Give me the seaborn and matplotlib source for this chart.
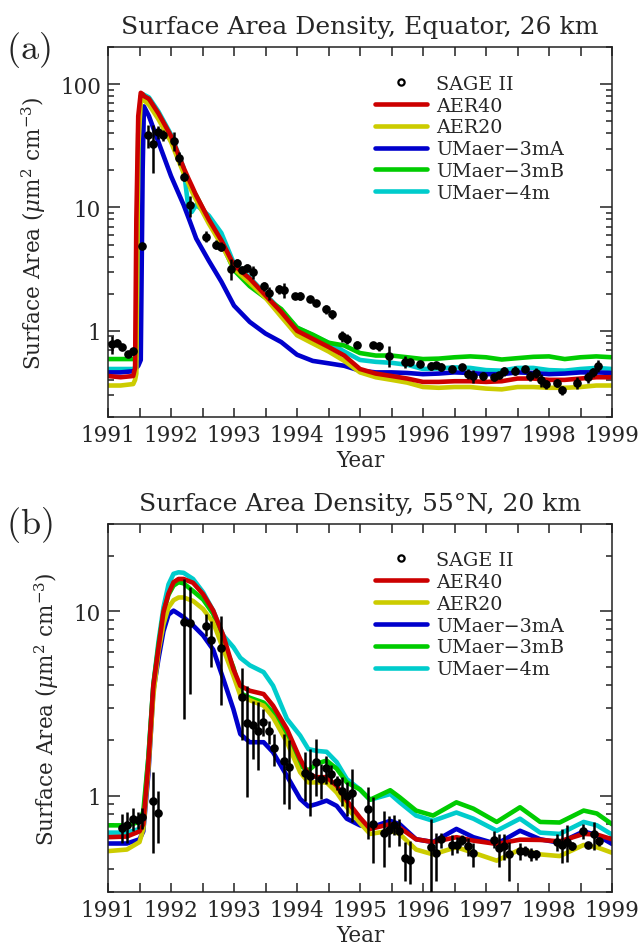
import numpy as np
import pandas as pd
import matplotlib
matplotlib.use('Agg')
import matplotlib.pyplot as plt
import seaborn as sns
from matplotlib.lines import Line2D
from matplotlib.ticker import MultipleLocator, LogLocator, FuncFormatter, NullFormatter

# ------------------------------------------------------------
# Panel (a): Equator, 26 km
# ------------------------------------------------------------
sage_a_t = [1991.06, 1991.14, 1991.22, 1991.31, 1991.39, 1991.54,
            1991.63, 1991.71, 1991.80, 1991.88, 1992.05, 1992.13, 1992.21, 1992.30,
            1992.55, 1992.71, 1992.80, 1992.96, 1993.05, 1993.13, 1993.21, 1993.30,
            1993.47, 1993.55, 1993.71, 1993.80, 1993.97, 1994.05, 1994.21, 1994.30,
            1994.46, 1994.55, 1994.71, 1994.79, 1994.96, 1995.21, 1995.30, 1995.46,
            1995.71, 1995.79, 1995.96, 1996.13, 1996.21, 1996.29, 1996.46, 1996.62,
            1996.71, 1996.79, 1996.96, 1997.13, 1997.21, 1997.29, 1997.46, 1997.62,
            1997.70, 1997.79, 1997.87, 1997.95, 1998.12, 1998.20, 1998.45, 1998.62,
            1998.70, 1998.78]
sage_a_v = [0.78, 0.80, 0.74, 0.65, 0.68, 4.9,
            38.5, 32.7, 41, 38.7, 34.6, 25, 17.8, 10.4,
            5.8, 5.0, 4.8, 3.19, 3.57, 3.13, 3.23, 3.0,
            2.31, 2.02, 2.17, 2.13, 1.93, 1.93, 1.81, 1.69,
            1.49, 1.36, 0.905, 0.86, 0.77, 0.77, 0.75, 0.63,
            0.56, 0.556, 0.54, 0.52, 0.53, 0.51, 0.49, 0.51,
            0.45, 0.43, 0.43, 0.42, 0.44, 0.47, 0.475, 0.49,
            0.43, 0.455, 0.40, 0.37, 0.38, 0.33, 0.38, 0.42,
            0.46, 0.52]
sage_a_err = [0.13, 0.05, 0.04, 0.03, 0.04, 0.2,
              8, 13.8, 5, 4, 6, 3, 1.5, 2.1,
              0.6, 0.4, 0.4, 0.6, 0.25, 0.2, 0.25, 0.35,
              0.2, 0.25, 0.2, 0.3, 0.1, 0.15, 0.1, 0.08,
              0.12, 0.12, 0.1, 0.08, 0.05, 0.04, 0.06, 0.12,
              0.06, 0.04, 0.02, 0.04, 0.03, 0.04, 0.03, 0.02,
              0.04, 0.05, 0.03, 0.03, 0.02, 0.04, 0.04, 0.03,
              0.04, 0.04, 0.05, 0.03, 0.03, 0.03, 0.04, 0.04,
              0.04, 0.06]

model_a_t = [1991.0, 1991.2, 1991.4, 1991.43, 1991.45, 1991.48, 1991.52, 1991.55,
             1991.57, 1991.65, 1991.8, 1992.0, 1992.2, 1992.28, 1992.33, 1992.4,
             1992.6, 1992.8, 1993.0, 1993.25, 1993.5, 1993.75, 1994.0, 1994.25,
             1994.5, 1994.75, 1995.0, 1995.25, 1995.5, 1995.75, 1996.0, 1996.25,
             1996.5, 1996.75, 1997.0, 1997.25, 1997.5, 1997.75, 1998.0, 1998.25,
             1998.5, 1998.75, 1999.0]
aer40_a = [0.43, 0.42, 0.43, 0.5, 8, 55, 85, 83,
           80, 76, 58, 38, 21, 17, 15, 12.5,
           8.0, 5.4, 3.4, 2.65, 1.94, 1.42, 1.0, 0.86,
           0.74, 0.63, 0.49, 0.45, 0.43, 0.41, 0.385, 0.385,
           0.39, 0.39, 0.385, 0.39, 0.41, 0.41, 0.40, 0.40,
           0.41, 0.42, 0.42]
aer20_a = [0.36, 0.36, 0.37, 0.40, 0.45, 30, 72, 75,
           74, 68, 52, 34, 19, 15.5, 13.5, 11.5,
           7.4, 5.0, 3.2, 2.45, 1.85, 1.3, 0.92, 0.79,
           0.68, 0.57, 0.46, 0.42, 0.40, 0.38, 0.35, 0.345,
           0.35, 0.35, 0.34, 0.335, 0.35, 0.35, 0.345, 0.345,
           0.35, 0.36, 0.36]
umaer3ma_a = [0.46, 0.46, 0.47, 0.48, 0.50, 0.52, 0.58, 20,
              66, 55, 34, 18, 10.5, 8.2, 7.0, 5.6,
              3.7, 2.5, 1.6, 1.18, 0.95, 0.81, 0.64, 0.57,
              0.545, 0.52, 0.475, 0.46, 0.46, 0.455, 0.445, 0.45,
              0.46, 0.455, 0.445, 0.445, 0.46, 0.455, 0.445, 0.45,
              0.46, 0.46, 0.455]
umaer3mb_a = [0.59, 0.59, 0.59, 0.60, 0.62, 40, 80, 81,
              80, 74, 56, 36, 20, 16, 14, 12.5,
              7.8, 5.2, 3.1, 2.3, 1.85, 1.5, 1.06, 0.93,
              0.80, 0.76, 0.66, 0.63, 0.63, 0.61, 0.59, 0.595,
              0.61, 0.62, 0.61, 0.585, 0.60, 0.615, 0.62, 0.59,
              0.61, 0.62, 0.61]
umaer4m_a = [0.49, 0.49, 0.49, 0.50, 0.51, 15, 78, 82,
             82, 78, 60, 39, 21, 9.5, 9.2, 10.5,
             8.6, 6.2, 3.5, 2.7, 1.98, 1.45, 1.06, 0.92,
             0.80, 0.68, 0.58, 0.56, 0.55, 0.53, 0.49, 0.495,
             0.505, 0.50, 0.48, 0.475, 0.50, 0.50, 0.48, 0.475,
             0.49, 0.50, 0.49]

# ------------------------------------------------------------
# Panel (b): 55N, 20 km
# ------------------------------------------------------------
sage_b_t = [1991.22, 1991.30, 1991.39, 1991.47, 1991.54, 1991.71, 1991.80,
            1992.21, 1992.30, 1992.55, 1992.63, 1992.80,
            1993.13, 1993.21, 1993.30, 1993.38, 1993.46, 1993.55, 1993.63,
            1993.80, 1993.88, 1994.13, 1994.21, 1994.30, 1994.38, 1994.46,
            1994.54, 1994.63, 1994.71, 1994.79, 1994.88,
            1995.13, 1995.21, 1995.38, 1995.46, 1995.54, 1995.62, 1995.71, 1995.79,
            1996.12, 1996.21, 1996.29, 1996.46, 1996.54, 1996.62, 1996.71, 1996.79,
            1997.12, 1997.20, 1997.29, 1997.37, 1997.54, 1997.62, 1997.71, 1997.79,
            1998.13, 1998.21, 1998.29, 1998.37, 1998.54, 1998.62, 1998.71, 1998.79]
sage_b_v = [0.67, 0.69, 0.75, 0.74, 0.77, 0.93, 0.81,
            8.8, 8.6, 8.3, 7.0, 6.35,
            3.44, 2.47, 2.43, 2.25, 2.52, 2.25, 1.81,
            1.54, 1.43, 1.33, 1.28, 1.52, 1.23, 1.41,
            1.31, 1.18, 1.06, 1.0, 1.04,
            0.85, 0.70, 0.625, 0.65, 0.69, 0.646, 0.46, 0.45,
            0.525, 0.49, 0.58, 0.54, 0.54, 0.575, 0.53, 0.49,
            0.575, 0.52, 0.53, 0.48, 0.50, 0.50, 0.48, 0.48,
            0.56, 0.54, 0.56, 0.53, 0.64, 0.54, 0.62, 0.565]
sage_b_lo = [0.55, 0.55, 0.64, 0.66, 0.66, 0.49, 0.55,
             2.6, 3.55, 7.4, 5.0, 3.1,
             2.0, 0.98, 1.58, 1.37, 2.12, 1.9, 1.44,
             0.90, 0.85, 0.94, 0.78, 1.0, 0.96, 1.16,
             1.15, 1.08, 0.88, 0.78, 0.72,
             0.58, 0.43, 0.41, 0.525, 0.61, 0.535, 0.345, 0.33,
             0.29, 0.345, 0.52, 0.475, 0.49, 0.54, 0.47, 0.41,
             0.52, 0.41, 0.45, 0.345, 0.45, 0.47, 0.44, 0.45,
             0.50, 0.43, 0.435, 0.51, 0.58, 0.52, 0.51, 0.53]
sage_b_hi = [0.80, 0.82, 0.86, 0.82, 0.86, 1.35, 1.06,
             15, 13.6, 9.7, 8.9, 9.5,
             4.9, 3.95, 3.28, 3.21, 2.95, 2.55, 2.16,
             2.16, 2.01, 1.72, 1.79, 2.03, 1.49, 1.65,
             1.46, 1.28, 1.26, 1.18, 1.40,
             1.11, 0.98, 0.83, 0.78, 0.79, 0.75, 0.56, 0.565,
             0.75, 0.63, 0.63, 0.61, 0.60, 0.61, 0.59, 0.55,
             0.64, 0.62, 0.62, 0.56, 0.55, 0.53, 0.52, 0.51,
             0.62, 0.66, 0.69, 0.56, 0.70, 0.56, 0.72, 0.59]

model_b_t = [1991.0, 1991.3, 1991.5, 1991.56, 1991.64, 1991.72, 1991.8, 1991.88,
             1991.96, 1992.04, 1992.12, 1992.2, 1992.35, 1992.51, 1992.67, 1992.83,
             1992.99, 1993.1, 1993.25, 1993.47, 1993.62, 1993.84, 1994.05, 1994.18,
             1994.31, 1994.47, 1994.63, 1994.79, 1995.0, 1995.16, 1995.48, 1995.63,
             1995.89, 1996.16, 1996.53, 1996.8, 1997.17, 1997.54, 1997.86, 1998.17,
             1998.55, 1998.76, 1999.0]
aer40_b = [0.595, 0.60, 0.64, 0.70, 1.5, 3.95, 6.3, 9.9,
           12.5, 14.4, 15.0, 15.0, 14.3, 12.4, 10.1, 7.4,
           4.87, 3.95, 3.71, 3.56, 3.08, 2.30, 1.58, 1.31,
           1.26, 1.26, 1.13, 0.94, 0.76, 0.66, 0.70, 0.67,
           0.58, 0.56, 0.595, 0.57, 0.547, 0.577, 0.575, 0.565,
           0.62, 0.615, 0.58]
aer20_b = [0.50, 0.51, 0.56, 0.66, 1.4, 3.5, 6.0, 8.5,
           10.5, 11.5, 11.9, 11.9, 11.4, 10.3, 8.7, 6.25,
           4.48, 3.5, 3.3, 3.08, 2.66, 1.95, 1.34, 1.18,
           1.18, 1.18, 1.04, 0.865, 0.71, 0.62, 0.645, 0.62,
           0.51, 0.48, 0.525, 0.49, 0.444, 0.51, 0.48, 0.47,
           0.54, 0.525, 0.49]
umaer3ma_b = [0.55, 0.55, 0.58, 0.64, 1.3, 3.7, 5.5, 7.8,
              9.6, 10.1, 9.7, 9.3, 8.4, 7.4, 6.2, 4.3,
              2.95, 2.16, 1.95, 1.95, 1.72, 1.28, 0.96, 0.875,
              0.90, 0.94, 0.88, 0.75, 0.69, 0.67, 0.73, 0.70,
              0.58, 0.56, 0.66, 0.595, 0.547, 0.645, 0.58, 0.555,
              0.64, 0.61, 0.547]
umaer3mb_b = [0.69, 0.69, 0.72, 0.82, 1.6, 4.0, 6.5, 9.9,
              12.3, 13.8, 14.4, 14.2, 12.9, 11.6, 9.7, 6.8,
              4.97, 3.6, 3.4, 3.2, 2.83, 2.12, 1.45, 1.37,
              1.49, 1.55, 1.40, 1.18, 1.08, 0.95, 1.07, 0.98,
              0.83, 0.78, 0.92, 0.85, 0.72, 0.865, 0.72, 0.715,
              0.83, 0.80, 0.70]
umaer4m_b = [0.63, 0.63, 0.66, 0.75, 1.6, 4.0, 6.8, 10.5,
             14.0, 16.0, 16.3, 16.2, 15.0, 12.7, 10.1, 7.4,
             6.4, 5.6, 5.1, 4.68, 3.95, 2.61, 2.12, 1.79,
             1.75, 1.73, 1.52, 1.23, 1.08, 0.95, 1.02, 0.92,
             0.78, 0.73, 0.81, 0.75, 0.645, 0.75, 0.63, 0.62,
             0.72, 0.69, 0.615]

model_names = ['AER40', 'AER20', 'UMaer\u22123mA', 'UMaer\u22123mB', 'UMaer\u22124m']
model_colors = ['#cc0000', '#cccc00', '#0000cc', '#00cc00', '#00cccc']
draw_order = ['UMaer\u22124m', 'UMaer\u22123mB', 'UMaer\u22123mA', 'AER20', 'AER40']

sns.set_style('ticks')
plt.rcParams['font.family'] = ['DejaVu Serif']
plt.rcParams['mathtext.fontset'] = 'dejavuserif'

palette = dict(zip(model_names, model_colors))


def long_frame(t, series):
    rows = []
    for name, vals in zip(model_names, series):
        rows.append(pd.DataFrame({'Year': t, 'Value': vals, 'Model': name}))
    return pd.concat(rows, ignore_index=True)


def style_axis(ax, ylim, title):
    ax.set_yscale('log')
    ax.set_xlim(1991, 1999)
    ax.set_ylim(*ylim)
    ax.xaxis.set_major_locator(MultipleLocator(1))
    ax.xaxis.set_minor_locator(MultipleLocator(0.5))
    ax.yaxis.set_major_locator(LogLocator(base=10))
    ax.yaxis.set_minor_locator(LogLocator(base=10, subs=np.arange(2, 10)))
    ax.yaxis.set_major_formatter(FuncFormatter(lambda v, _: f'{v:g}'))
    ax.yaxis.set_minor_formatter(NullFormatter())
    ax.tick_params(axis='both', which='both', direction='in', top=True, right=True,
                   width=1.1, labelsize=15.5, color='#222222')
    ax.tick_params(axis='x', which='both', length=6.5, pad=5)
    ax.tick_params(axis='y', which='major', length=8.5, pad=5)
    ax.tick_params(axis='y', which='minor', length=4.5)
    for sp in ax.spines.values():
        sp.set_linewidth(1.1)
        sp.set_color('#222222')
    ax.set_title(title, fontsize=18, pad=10)
    ax.set_xlabel('Year', fontsize=15.5, labelpad=2)
    ax.set_ylabel(r'Surface Area ($\mu$m$^2$ cm$^{-3}$)', fontsize=15.5, labelpad=9)


def draw_panel(ax, t, series, obs_t, obs_v, yerr):
    df = long_frame(t, series)
    sns.lineplot(data=df, x='Year', y='Value', hue='Model', hue_order=draw_order,
                 palette=palette, linewidth=3.3, legend=False, ax=ax)
    ax.errorbar(obs_t, obs_v, yerr=yerr, fmt='o', color='black', ms=5.2,
                elinewidth=1.8, capsize=0, zorder=5)
    handles = [Line2D([], [], ls='none', marker='o', ms=4.5, mfc='white', mec='black',
                      mew=1.6, label='SAGE II')]
    for name, col in zip(model_names, model_colors):
        handles.append(Line2D([], [], color=col, lw=3.3, label=name))
    ax.legend(handles=handles, loc='upper left', bbox_to_anchor=(0.53, 0.925),
              frameon=False, fontsize=13.8, handlelength=2.7, handletextpad=0.5,
              labelspacing=0.2, borderpad=0, borderaxespad=0)


fig = plt.figure(figsize=(6.41, 9.45), dpi=100)
ax_a = fig.add_axes([108 / 641, 1 - 418 / 945, 504 / 641, 370 / 945])
ax_b = fig.add_axes([108 / 641, 1 - 893 / 945, 504 / 641, 368.5 / 945])

draw_panel(ax_a, model_a_t, [aer40_a, aer20_a, umaer3ma_a, umaer3mb_a, umaer4m_a],
           sage_a_t, sage_a_v, sage_a_err)
style_axis(ax_a, (0.2, 200), 'Surface Area Density, Equator, 26 km')

b_err = [np.array(sage_b_v) - np.array(sage_b_lo), np.array(sage_b_hi) - np.array(sage_b_v)]
draw_panel(ax_b, model_b_t, [aer40_b, aer20_b, umaer3ma_b, umaer3mb_b, umaer4m_b],
           sage_b_t, sage_b_v, b_err)
style_axis(ax_b, (0.3, 30), 'Surface Area Density, 55\u00b0N, 20 km')

fig.text(6 / 641, 1 - 50 / 945, r'$\mathrm{(a)}$', fontsize=26, va='center', ha='left',
         math_fontfamily='cm')
fig.text(6 / 641, 1 - 525 / 945, r'$\mathrm{(b)}$', fontsize=26, va='center', ha='left',
         math_fontfamily='cm')

fig.savefig('out.png', dpi=100)
